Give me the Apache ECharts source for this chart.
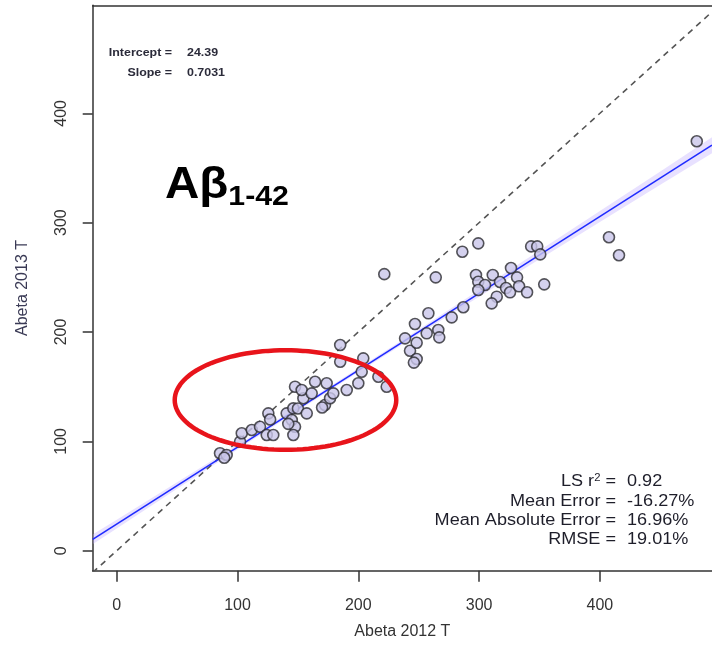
<!DOCTYPE html>
<html>
<head>
<meta charset="utf-8">
<script src="https://cdn.jsdelivr.net/npm/echarts@6/dist/echarts.min.js"></script>
<style>
html,body{margin:0;padding:0;background:#fff;}
#chart{width:712px;height:655px;}
</style>
</head>
<body>
<div id="chart"></div>
<script>
// ---- data ----
const xTicks = [0, 100, 200, 300, 400];
const yTicks = [0, 100, 200, 300, 400];
const abeta2012 = [85.5, 91, 89, 102.1, 103.5, 111.8, 118.6, 124.2, 129.6, 125.5, 127, 140.7, 144.9, 147.6, 142, 146.2, 146.2, 150, 157.3, 154.5, 147.6, 153.1, 161.4, 164.2, 173.8, 172.4, 170, 176.6, 179.3, 190.4, 200, 185, 185, 204.1, 202.8, 216.6, 223.5, 221.5, 238.7, 242.8, 248.3, 248.3, 246, 246.9, 258, 256.6, 266.2, 267, 264.1, 277.3, 286.9, 286.1, 299.3, 297.4, 311.3, 299.3, 304.9, 299.3, 314.6, 310.4, 317.3, 322.3, 326.4, 325.6, 331.4, 333.1, 339.7, 343.1, 348.1, 350.6, 353.9, 407.5, 415.8, 480.2];
const abeta2013 = [89.1, 87.5, 85, 99.7, 107.4, 110.4, 113.4, 105.8, 105.8, 125.6, 120, 125.6, 119.5, 113.4, 116, 105.8, 130.2, 130, 125.6, 139.4, 150, 147, 143.9, 154.5, 153.1, 133.2, 131, 139.4, 143.9, 147, 153.1, 188.1, 172.8, 175.9, 163.7, 159.1, 150, 252.9, 194.2, 182.9, 190.2, 175.3, 172, 207.3, 217.1, 198.8, 201.8, 195.1, 250, 213.4, 222.6, 273.4, 281.1, 252.1, 252.1, 246, 243, 238.4, 232.3, 226.2, 245.7, 240.2, 258.5, 236.3, 250, 241.8, 236.3, 278.3, 278.3, 271, 243.6, 286.7, 270.2, 374.5];
const fitIntercept = 24.39;
const fitSlope = 0.7031;
const bandX = [-20, 0, 50, 100, 150, 200, 250, 300, 350, 400, 450, 500];
const bandHalfWidth = [4.5, 4, 3, 2.2, 1.8, 1.8, 2.2, 3, 4, 5, 6, 7.5];
const statLabels = ['LS r{sup|2} =', 'Mean Error =', 'Mean Absolute Error =', 'RMSE ='];
const statValues = ['0.92', '-16.27%', '16.96%', '19.01%'];
const fitLabels = ['Intercept =', 'Slope ='];
const fitValues = ['24.39', '0.7031'];
// highlight ellipse in data units: [cx, cy, rx, ry]
const highlightEllipse = [139.7, 137.8, 91.7, 45.5];

// ---- layout ----
const X_MIN = -19.9, X_MAX = 492.8, Y_MIN = -18.3, Y_MAX = 498.8;
const FONT = '"Liberation Sans", Arial, sans-serif';
const STRETCH = 1.13;

const points = abeta2012.map((x, i) => [x, abeta2013[i]]);
const fitLine = [[X_MIN, fitIntercept + fitSlope * X_MIN], [X_MAX, fitIntercept + fitSlope * X_MAX]];
const identityLine = [[X_MIN, X_MIN], [X_MAX, X_MAX]];

const chart = echarts.init(document.getElementById('chart'), null, {renderer: 'canvas'});

const graphics = [];
fitLabels.forEach((t, i) => {
  graphics.push({type: 'text', x: 172, y: 53 + i * 20, scaleX: STRETCH, style: {text: t, font: 'bold 11px ' + FONT, fill: '#2b2b3a', align: 'right', verticalAlign: 'middle'}});
  graphics.push({type: 'text', x: 187, y: 53 + i * 20, scaleX: STRETCH, style: {text: fitValues[i], font: 'bold 11px ' + FONT, fill: '#2b2b3a', align: 'left', verticalAlign: 'middle'}});
});
statLabels.forEach((t, i) => {
  graphics.push({type: 'text', x: 616, y: 482 + i * 19.3, scaleX: STRETCH, style: {
    text: t, font: '16px ' + FONT, fill: '#1e1e2a', align: 'right', verticalAlign: 'middle',
    rich: {sup: {font: '10px ' + FONT, fill: '#1e1e2a', verticalAlign: 'top', padding: [0, 0, 8, 0]}}
  }});
  graphics.push({type: 'text', x: 627, y: 482 + i * 19.3, scaleX: STRETCH, style: {text: statValues[i], font: '16px ' + FONT, fill: '#1e1e2a', align: 'left', verticalAlign: 'middle'}});
});
graphics.push({type: 'text', x: 165, y: 186, scaleX: 1.08, style: {
  text: 'Aβ{sub|1-42}', font: 'bold 44px ' + FONT, fill: '#000', align: 'left', verticalAlign: 'middle',
  rich: {sub: {font: 'bold 28px ' + FONT, fill: '#000', padding: [22, 0, 0, 0]}}
}});

const option = {
  animation: false,
  backgroundColor: '#fff',
  grid: {left: 92.7, top: 5.3, bottom: 655 - 570.7, right: 0, show: false},
  xAxis: [{
    type: 'value', min: X_MIN, max: X_MAX, position: 'bottom',
    name: 'Abeta 2012 T', nameLocation: 'middle', nameGap: 53,
    nameTextStyle: {fontFamily: FONT, fontSize: 16, color: '#333'},
    axisLine: {show: true, onZero: false, lineStyle: {color: '#333', width: 1.5}},
    axisTick: {show: true, length: 11, customValues: xTicks, lineStyle: {color: '#333', width: 1.5}},
    axisLabel: {customValues: xTicks, margin: 27, fontFamily: FONT, fontSize: 16, color: '#333'},
    splitLine: {show: false}
  }, {
    type: 'value', min: X_MIN, max: X_MAX, position: 'top',
    axisLine: {show: true, onZero: false, lineStyle: {color: '#333', width: 1.5}},
    axisTick: {show: false}, axisLabel: {show: false}, splitLine: {show: false}
  }],
  yAxis: {
    type: 'value', min: Y_MIN, max: Y_MAX,
    name: 'Abeta 2013 T', nameLocation: 'middle', nameGap: 62, nameRotate: 90,
    nameTextStyle: {fontFamily: FONT, fontSize: 16, color: '#3a3a55'},
    axisLine: {show: true, onZero: false, lineStyle: {color: '#333', width: 1.5}},
    axisTick: {show: true, length: 10, customValues: yTicks, lineStyle: {color: '#333', width: 1.5}},
    axisLabel: {customValues: yTicks, rotate: 90, margin: 23, fontFamily: FONT, fontSize: 16, color: '#333'},
    splitLine: {show: false}
  },
  series: [
    {
      type: 'custom', name: 'band', silent: true, z: 1,
      data: [0],
      renderItem: function (params, api) {
        const upper = bandX.map((x, i) => api.coord([x, fitIntercept + fitSlope * x + bandHalfWidth[i]]));
        const lower = bandX.map((x, i) => api.coord([x, fitIntercept + fitSlope * x - bandHalfWidth[i]])).reverse();
        return {type: 'polygon', shape: {points: upper.concat(lower)}, style: {fill: 'rgba(190,170,255,0.35)'},
          clipPath: {type: 'rect', shape: {x: params.coordSys.x, y: params.coordSys.y, width: params.coordSys.width, height: params.coordSys.height}}};
      }
    },
    {
      type: 'line', name: 'identity', data: identityLine, symbol: 'none', z: 2, silent: true,
      lineStyle: {color: '#555', width: 1.6, type: [6, 5]}
    },
    {
      type: 'line', name: 'fit', data: fitLine, symbol: 'none', z: 3, silent: true,
      lineStyle: {color: '#1f2bff', width: 1.6}
    },
    {
      type: 'scatter', name: 'samples', data: points, z: 4,
      symbol: 'circle', symbolSize: 11,
      itemStyle: {color: '#c9c5ea', borderColor: '#2a2a30', borderWidth: 1.6}
    },
    {
      type: 'custom', name: 'highlight', silent: true, z: 5,
      data: [highlightEllipse],
      renderItem: function (params, api) {
        const c = api.coord([highlightEllipse[0], highlightEllipse[1]]);
        const s = api.size([highlightEllipse[2], highlightEllipse[3]]);
        const pts = [];
        for (let k = 0; k < 120; k++) {
          const t = k / 120 * Math.PI * 2;
          pts.push([c[0] + s[0] * Math.cos(t), c[1] + s[1] * Math.sin(t)]);
        }
        return {type: 'polygon', shape: {points: pts}, style: {fill: 'none', stroke: '#e8141b', lineWidth: 4.5}};
      }
    }
  ],
  graphic: graphics
};
chart.setOption(option);
</script>
</body>
</html>
